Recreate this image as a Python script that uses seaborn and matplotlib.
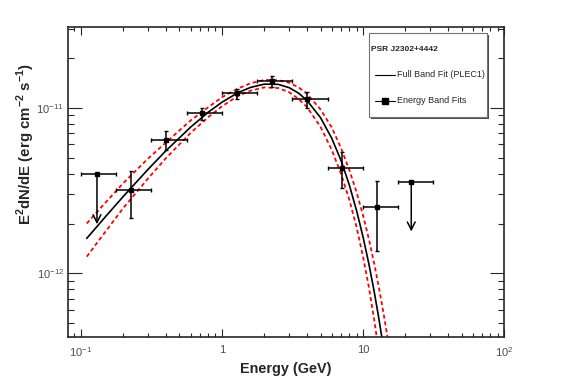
import numpy as np
import seaborn as sns
import matplotlib.pyplot as plt
from matplotlib.patches import Rectangle
from matplotlib.lines import Line2D

# Energy band fits (GeV, flux in 1e-12 erg cm^-2 s^-1)
energia = [0.227, 0.403, 0.722, 1.28, 2.26, 4.01, 7.10, 12.6]
bin_lo = [0.178, 0.316, 0.562, 1.0, 1.78, 3.16, 5.62, 10.0]
bin_hi = [0.316, 0.562, 1.0, 1.78, 3.16, 5.62, 10.0, 17.8]
fluxo = [3.19, 6.38, 9.25, 12.22, 14.49, 11.24, 4.31, 2.505]
fluxo_sup = [4.15, 7.24, 10.0, 12.97, 15.6, 12.49, 5.38, 3.63]
fluxo_inf = [2.17, 5.56, 8.43, 11.24, 13.39, 10.0, 3.29, 1.371]

# Upper limits
energia_ul = [0.130, 22.0]
bin_lo_ul = [0.1, 17.8]
bin_hi_ul = [0.178, 31.6]
fluxo_ul = [3.96, 3.58]

# Full band fit (PLEC1) and its error band
energia_fit = [0.11, 0.15, 0.2, 0.3, 0.4, 0.6, 0.8, 1.0, 1.3, 1.6, 2.0, 2.5, 3.0,
               3.5, 4, 5, 6, 7, 8, 9, 10, 11, 12, 13, 14, 15]
fit_central = [1.626, 2.208, 2.917, 4.256, 5.489, 7.638, 9.397, 10.79, 12.33, 13.27,
               13.88, 13.84, 13.21, 12.23, 11.09, 8.71, 6.55, 4.79, 3.42, 2.40,
               1.667, 1.146, 0.780, 0.526, 0.353, 0.236]
fit_sup = [2.000, 2.685, 3.508, 4.943, 6.159, 8.375, 10.07, 11.56, 13.06, 14.06,
           14.71, 14.66, 14.16, 13.26, 12.16, 9.77, 7.61, 5.69, 4.21, 3.10,
           2.25, 1.618, 1.153, 0.815, 0.573, 0.401]
fit_inf = [1.262, 1.795, 2.483, 3.750, 4.949, 7.047, 8.77, 10.19, 11.78, 12.68,
           13.26, 13.15, 12.39, 11.28, 10.12, 7.67, 5.58, 3.98, 2.78, 1.91,
           1.265, 0.830, 0.527, 0.332, 0.208, 0.130]

escala = 1e-12

sns.set_style("ticks")
plt.rcParams['font.family'] = ['Liberation Sans', 'DejaVu Sans']
plt.rcParams['mathtext.fontset'] = 'custom'
plt.rcParams['mathtext.rm'] = 'Liberation Sans'
plt.rcParams['mathtext.bf'] = 'Liberation Sans:bold'

fig = plt.figure(figsize=(5.67, 3.84), dpi=100)
ax = fig.add_axes([68 / 567, 1 - 337 / 384, 436 / 567, 310 / 384])

# Curvas do ajuste
e_fit = np.array(energia_fit)
tracejado = (0, (2.2, 1.6))
sns.lineplot(x=e_fit, y=np.array(fit_sup) * escala, ax=ax, color='red', lw=1.3,
             linestyle=tracejado, estimator=None, sort=False)
sns.lineplot(x=e_fit, y=np.array(fit_inf) * escala, ax=ax, color='red', lw=1.3,
             linestyle=tracejado, estimator=None, sort=False)
sns.lineplot(x=e_fit, y=np.array(fit_central) * escala, ax=ax, color='black', lw=1.2,
             estimator=None, sort=False)

# Pontos das bandas de energia
e = np.array(energia)
f = np.array(fluxo) * escala
xerr = [e - np.array(bin_lo), np.array(bin_hi) - e]
yerr = [f - np.array(fluxo_inf) * escala, np.array(fluxo_sup) * escala - f]
ax.errorbar(e, f, xerr=xerr, yerr=yerr, fmt='s', ms=2.5, color='black',
            ecolor='black', elinewidth=1.1, capsize=1.5, capthick=1.0)

# Limites superiores
e_ul = np.array(energia_ul)
f_ul = np.array(fluxo_ul) * escala
ax.errorbar(e_ul, f_ul, xerr=[e_ul - np.array(bin_lo_ul), np.array(bin_hi_ul) - e_ul],
            fmt='s', ms=2.5, color='black', elinewidth=1.1, capsize=1.5, capthick=1.0)
for xu, yu in zip(e_ul, f_ul):
    ax.annotate('', xy=(xu, yu * 0.5), xytext=(xu, yu),
                arrowprops=dict(arrowstyle='->', lw=1.1, color='black',
                                mutation_scale=14, shrinkA=0, shrinkB=0))

ax.set_xscale('log')
ax.set_yscale('log')
ax.set_xlim(0.081, 100)
ax.set_ylim(4.13e-13, 3.07e-11)

ax.set_xticks([0.1, 1, 10, 100], labels=['$10^{-1}$', '1', '10', '$10^{2}$'])
ax.set_yticks([1e-12, 1e-11], labels=['$10^{-12}$', '$10^{-11}$'])

for s in ax.spines.values():
    s.set_linewidth(1.2)
ax.tick_params(which='both', direction='in', top=True, right=True,
               labelsize=8, labelcolor='0.3', width=0.8)
ax.tick_params(axis='x', which='major', length=5.8, pad=6)
ax.tick_params(axis='x', which='minor', length=3.2)
ax.tick_params(axis='y', which='major', length=10, pad=3)
ax.tick_params(axis='y', which='minor', length=4.5)

ax.set_xlabel('Energy (GeV)', fontsize=10.4, fontweight='bold')
ax.xaxis.set_label_coords(0.5, -0.08)
ax.set_ylabel(r'E$^{\mathbf{2}}$dN/dE (erg cm$^{\mathbf{-2}}$ s$^{\mathbf{-1}}$)',
              fontsize=10.8, fontweight='bold')
ax.yaxis.set_label_coords(-0.072, 0.622)

# Legenda desenhada a mao (caixa com sombra)
x0, x1, y0, y1 = 0.6904, 0.9610, 0.7097, 0.9806
ax.add_patch(Rectangle((x0 + 0.005, y0 - 0.007), x1 - x0, y1 - y0, transform=ax.transAxes,
                       facecolor='0.3', edgecolor='none', clip_on=False, zorder=5))
ax.add_patch(Rectangle((x0, y0), x1 - x0, y1 - y0, transform=ax.transAxes,
                       facecolor='white', edgecolor='0.45', lw=0.8, clip_on=False, zorder=6))
ax.text(0.6950, 0.9260, 'PSR J2302+4442', transform=ax.transAxes, fontsize=6,
        fontweight='bold', va='center', ha='left', zorder=7)
ax.add_line(Line2D([0.7041, 0.7500], [0.8452, 0.8452], transform=ax.transAxes,
                   color='black', lw=0.8, zorder=7))
ax.text(0.7546, 0.8452, 'Full Band Fit (PLEC1)', transform=ax.transAxes, fontsize=6.5,
        va='center', ha='left', zorder=7)
ax.add_line(Line2D([0.7041, 0.7500], [0.7613, 0.7613], transform=ax.transAxes,
                   color='black', lw=0.8, zorder=7))
ax.add_line(Line2D([0.7270], [0.7613], transform=ax.transAxes, color='black',
                   marker='s', ms=4, zorder=7))
ax.text(0.7546, 0.7613, 'Energy Band Fits', transform=ax.transAxes, fontsize=6.5,
        va='center', ha='left', zorder=7)

fig.savefig('out.png', dpi=100)
